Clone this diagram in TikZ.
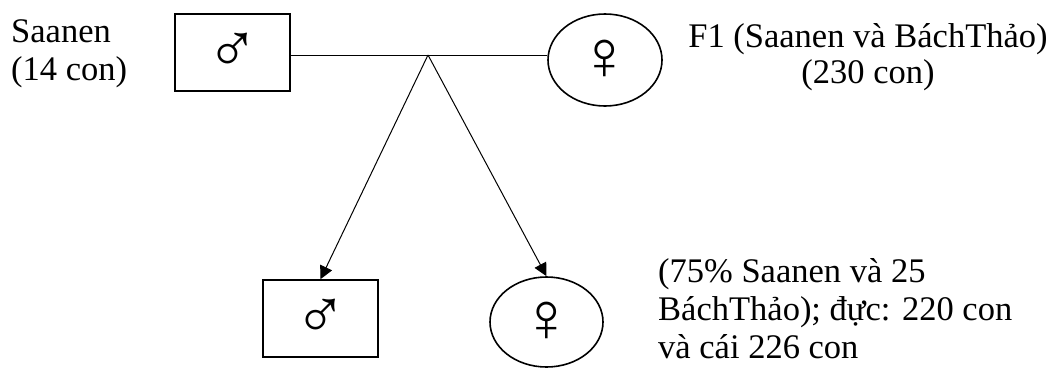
\documentclass[tikz,border=0pt]{standalone}
\usepackage{fontspec}
\setmainfont{Liberation Serif}
\usetikzlibrary{shapes.geometric,arrows.meta}
\tikzset{
  malebox/.style={draw, line width=1.6pt, rectangle, minimum width=115pt, minimum height=77pt, inner sep=0pt, font=\fontsize{70}{70}\selectfont},
  femaleell/.style={draw, line width=1.6pt, ellipse, inner sep=0pt, font=\fontsize{70}{70}\selectfont},
  link/.style={line width=1pt},
  arr/.style={line width=1pt, -{Triangle[length=13pt,width=13pt]}},
  lbl/.style={inner sep=0pt, font=\fontsize{34.5}{38}\selectfont},
}
\begin{document}
\begin{tikzpicture}[x=1pt,y=-1pt]
\useasboundingbox (0,0) rectangle (1048,372);
\node[malebox] (m1) at (232.5,52.5) {♂};
\node[femaleell, minimum width=114pt, minimum height=92pt] (f1) at (605,60) {♀};
\node[malebox] (m2) at (320.5,318.5) {♂};
\node[femaleell, minimum width=113pt, minimum height=90pt] (f2) at (546.5,322) {♀};
\coordinate (j) at (428,55);
\draw[link] (j -| m1.east) -- (j -| f1.west);
\draw[arr] (j) -- (m2.north);
\draw[arr] (j) -- (f2.north);
\node[lbl, anchor=base west, align=left] (t1) at (11,80) {Saanen\\(14 con)};
\node[lbl, anchor=base, align=center, font=\fontsize{34.5}{36}\selectfont] (t2) at (868,83) {F1 (Saanen và BáchThảo)\\(230 con)};
\node[lbl, anchor=base west, align=left] (t3) at (658,358) {(75\% Saanen và 25\\BáchThảo); đực: 220 con\\và cái 226 con};
\end{tikzpicture}
\end{document}
